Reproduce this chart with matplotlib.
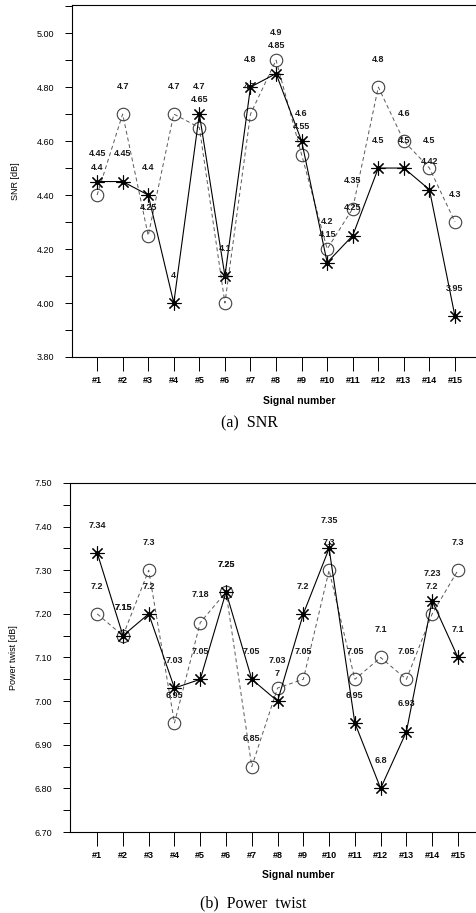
import matplotlib
matplotlib.use("Agg")
import matplotlib.pyplot as plt
from matplotlib.ticker import MultipleLocator

plt.rcParams['font.family'] = ['Liberation Sans', 'DejaVu Sans']

signals = ["#%d" % i for i in range(1, 16)]
xpos = list(range(1, 16))

# (a) SNR
snr_star = [4.45, 4.45, 4.4, 4.0, 4.7, 4.1, 4.8, 4.85, 4.6, 4.15, 4.25, 4.5, 4.5, 4.42, 3.95]
snr_circ = [4.4, 4.7, 4.25, 4.7, 4.65, 4.0, 4.7, 4.9, 4.55, 4.2, 4.35, 4.8, 4.6, 4.5, 4.3]

# (b) Power twist
pt_star = [7.34, 7.15, 7.2, 7.03, 7.05, 7.25, 7.05, 7.0, 7.2, 7.35, 6.95, 6.8, 6.93, 7.23, 7.1]
pt_circ = [7.2, 7.15, 7.3, 6.95, 7.18, 7.25, 6.85, 7.03, 7.05, 7.3, 7.05, 7.1, 7.05, 7.2, 7.3]

fig = plt.figure(figsize=(4.77, 9.13), dpi=100)

star = (8, 2, 0)


def panel(ax, ys, yc, ylim, major, minor, ylabel):
    ax.plot(xpos, yc, linestyle=(0, (4, 3)), color="0.35", lw=0.7,
            marker="o", markersize=9, markerfacecolor="none",
            markeredgecolor="0.25", markeredgewidth=0.8)
    ax.plot(xpos, ys, linestyle="-", color="black", lw=0.8,
            marker=star, markersize=10, markeredgewidth=0.8,
            markeredgecolor="black")
    ax.plot(xpos, ys, linestyle="none", marker="o", markersize=2.5,
            color="black")
    for x, v in zip(xpos, ys):
        ax.annotate("%g" % v, (x, v), xytext=(0, 20), textcoords="offset points",
                    ha="center", va="center", fontsize=6.5, fontweight="bold",
                    color="0.1")
    for x, v in zip(xpos, yc):
        ax.annotate("%g" % v, (x, v), xytext=(0, 20), textcoords="offset points",
                    ha="center", va="center", fontsize=6.5, fontweight="bold",
                    color="0.1")
    ax.set_ylim(*ylim)
    ax.yaxis.set_major_locator(MultipleLocator(major))
    ax.yaxis.set_minor_locator(MultipleLocator(minor))
    ax.yaxis.set_major_formatter(plt.FormatStrFormatter("%.2f"))
    ax.set_xticks(xpos)
    ax.set_xticklabels(signals, fontsize=6.5, fontweight="bold")
    ax.tick_params(axis="y", which="major", length=5, width=0.7, labelsize=6.5, pad=8)
    ax.tick_params(axis="y", which="minor", length=5, width=0.7)
    ax.tick_params(axis="x", length=10, width=0.7, pad=4)
    ax.spines["right"].set_visible(False)
    for s in ("left", "top", "bottom"):
        ax.spines[s].set_linewidth(0.8)
    ax.set_ylabel(ylabel, fontsize=6.5)
    ax.yaxis.set_label_coords(-0.128, 0.5)
    ax.set_xlabel("Signal number", fontsize=7.5, fontweight="bold", labelpad=4)
    ax.xaxis.set_label_coords(0.56, -0.11)


ax1 = fig.add_axes([0.151, 0.609, 0.849, 0.3855])
panel(ax1, snr_star, snr_circ, (3.8, 5.104), 0.2, 0.1, "SNR [dB]")
ax1.set_xlim(0.02, 15.86)

ax2 = fig.add_axes([0.147, 0.0887, 0.853, 0.3823])
panel(ax2, pt_star, pt_circ, (6.7, 7.5), 0.1, 0.05, "Power twist [dB]")
ax2.set_xlim(-0.05, 15.74)

fig.text(0.524, 1 - 423 / 913, "(a)  SNR", ha="center", va="center",
         fontsize=11.5, family=["Liberation Serif", "DejaVu Serif"])
fig.text(0.53, 1 - 903 / 913, "(b)  Power  twist", ha="center", va="center",
         fontsize=11.5, family=["Liberation Serif", "DejaVu Serif"])

fig.savefig("out.png", dpi=100)
